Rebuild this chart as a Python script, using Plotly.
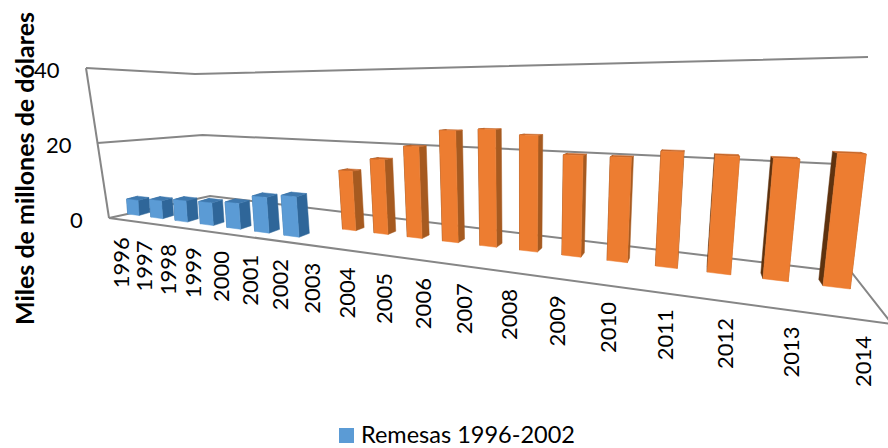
import numpy as np
import plotly.graph_objects as go

YEARS = list(range(1996, 2015))
BLUE_VALUES = [4.22, 4.87, 5.63, 5.91, 6.57, 8.9, 9.81]
ORANGE_VALUES = [15.0, 18.3, 21.7, 25.6, 26.1, 25.1, 21.3, 21.3, 22.8, 22.4, 22.3, 23.6]
VALUE_TICKS = [0, 20, 40]
LEGEND_NAME = "Remesas 1996-2002"
AXIS_TITLE = "Miles de millones de dólares"

# Bar width as a share of one category slot
BLUE_W = 0.5
ORANGE_W = 0.43

# Perspective cameras: (slot, depth, value) -> screen pixel
BLUE_CAMERA = np.array([
    [19.822, 12.608, -0.25145, 127.66],
    [-1.6128, -0.51376, -3.5272, 213.93],
    [-0.021898, 0.012192, -1.5253e-05, 1.0],
])
ORANGE_CAMERA = np.array([
    [21.23, 17.128, -0.70571, 342.52],
    [-2.6433, 2.495, -4.1415, 229.11],
    [-0.027276, 0.024491, -0.0013543, 1.0],
])


def project(camera, slot, depth, value):
    h = camera @ np.array([slot, depth, value, 1.0])
    return h[0] / h[2], h[1] / h[2]


def add_polys(fig, camera, polys, color):
    """Draw a set of 3D quads as one filled trace."""
    xs, ys = [], []
    for poly in polys:
        pts = [project(camera, *q) for q in poly]
        xs += [q[0] for q in pts] + [pts[0][0], None]
        ys += [q[1] for q in pts] + [pts[0][1], None]
    fig.add_trace(go.Scatter(x=xs, y=ys, mode="lines", fill="toself", fillcolor=color,
                             line=dict(color=color, width=0.5), showlegend=False, hoverinfo="skip"))


def add_bars(fig, camera, values, w, right, left, top, front):
    """Build the visible faces of each bar; the front face is painted last."""
    rights, lefts, tops, fronts = [], [], [], []
    for s, v in enumerate(values):
        e = s + w
        rights.append([(e, 0, 0), (e, 1, 0), (e, 1, v), (e, 0, v)])
        lefts.append([(s, 0, 0), (s, 1, 0), (s, 1, v), (s, 0, v)])
        tops.append([(s, 0, v), (e, 0, v), (e, 1, v), (s, 1, v)])
        fronts.append([(s, 0, 0), (e, 0, 0), (e, 0, v), (s, 0, v)])
    add_polys(fig, camera, lefts, left)
    add_polys(fig, camera, rights, right)
    add_polys(fig, camera, tops, top)
    add_polys(fig, camera, fronts, front)


fig = go.Figure()

# Chart box: left edge, level lines along both walls, floor edges
GRID = "#868686"
LEFT_0, LEFT_40 = (109, 218), (86, 68)
CORNER_0, CORNER_40 = (210, 196), (195, 74)
RIGHT_0, RIGHT_40 = (852, 273), (868, 57)
FRONT_RIGHT = (892, 324)


def mix(a, b, t):
    return a[0] + (b[0] - a[0]) * t, a[1] + (b[1] - a[1]) * t


for tick in VALUE_TICKS:
    t = tick / 40
    pts = [mix(LEFT_0, LEFT_40, t), mix(CORNER_0, CORNER_40, t), mix(RIGHT_0, RIGHT_40, t)]
    if tick == 0:
        pts.append(FRONT_RIGHT)
    fig.add_trace(go.Scatter(x=[q[0] for q in pts], y=[q[1] for q in pts], mode="lines",
                             line=dict(color=GRID, width=2), showlegend=False, hoverinfo="skip"))
for a, c in [(LEFT_0, LEFT_40), (LEFT_0, FRONT_RIGHT)]:
    fig.add_trace(go.Scatter(x=[a[0], c[0]], y=[a[1], c[1]], mode="lines",
                             line=dict(color=GRID, width=2), showlegend=False, hoverinfo="skip"))

add_bars(fig, BLUE_CAMERA, BLUE_VALUES, BLUE_W, "#2F6699", "#2F6699", "#3E78AE", "#5B9BD5")
add_bars(fig, ORANGE_CAMERA, ORANGE_VALUES, ORANGE_W, "#A65A20", "#5E320F", "#C8682A", "#ED7D31")

# Legend swatch for the blue series
fig.add_trace(go.Scatter(x=[346.5], y=[435.5], mode="markers", name=LEGEND_NAME, showlegend=False,
                         marker=dict(symbol="square", size=15, color="#5B9BD5", line=dict(width=0)),
                         hoverinfo="skip"))

FONT = "Lato"
notes = []
for tick in VALUE_TICKS:
    ex, ey = mix(LEFT_0, LEFT_40, tick / 40)
    notes.append(dict(x=ex - 24, y=ey + 1.5, text=str(tick), xanchor="right", yanchor="middle",
                      showarrow=False, font=dict(family=FONT, size=22, color="#000")))
for i, year in enumerate(YEARS):
    lx = (19.55 * i + 122) / (1 - 0.0251 * i) - 2
    ly = 236 + (lx - 122) * 0.1325
    notes.append(dict(x=lx, y=ly, text=str(year), textangle=-90, xanchor="center", yanchor="top",
                      showarrow=False, font=dict(family=FONT, size=22, color="#000")))
notes.append(dict(x=24, y=169, text="<b>" + AXIS_TITLE + "</b>", textangle=-90, xanchor="center",
                  yanchor="middle", showarrow=False, font=dict(family=FONT, size=25, color="#000")))
notes.append(dict(x=358.5, y=433.8, text=LEGEND_NAME, xanchor="left", yanchor="middle", showarrow=False,
                  font=dict(family=FONT, size=23.5, color="#000")))

fig.update_layout(
    width=888, height=448, autosize=False, margin=dict(l=0, r=0, t=0, b=0),
    paper_bgcolor="white", plot_bgcolor="white", annotations=notes, showlegend=False,
    xaxis=dict(range=[0, 888], visible=False, fixedrange=True),
    yaxis=dict(range=[448, 0], visible=False, fixedrange=True),
)
fig.write_html("out.html")
